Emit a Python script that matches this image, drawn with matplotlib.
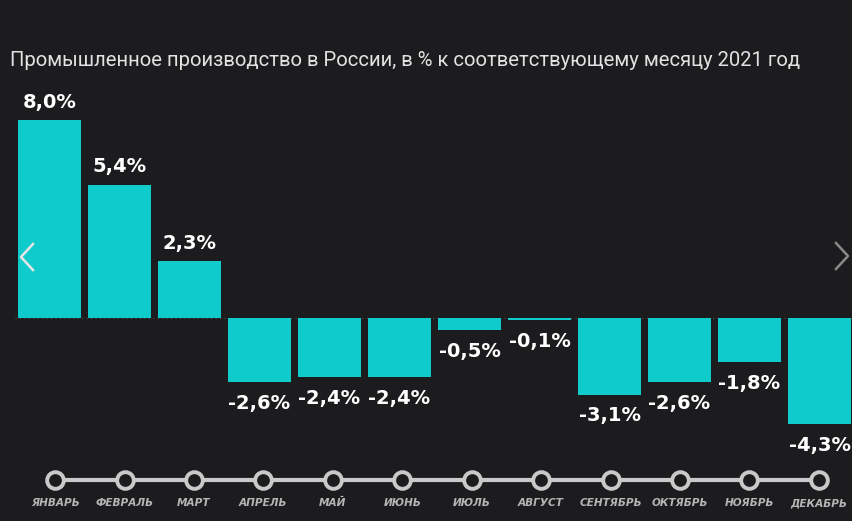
import matplotlib
matplotlib.use("Agg")
import matplotlib.pyplot as plt
from matplotlib.lines import Line2D

# data
months = ['ЯНВАРЬ', 'ФЕВРАЛЬ', 'МАРТ', 'АПРЕЛЬ', 'МАЙ', 'ИЮНЬ',
          'ИЮЛЬ', 'АВГУСТ', 'СЕНТЯБРЬ', 'ОКТЯБРЬ', 'НОЯБРЬ', 'ДЕКАБРЬ']
values = [8.0, 5.4, 2.3, -2.6, -2.4, -2.4, -0.5, -0.1, -3.1, -2.6, -1.8, -4.3]
title = 'Промышленное производство в России, в % к соответствующему месяцу 2021 год'

bg = '#1c1c1e'
bar_color = '#10cbcb'
line_grey = '#c9c9c9'

W, H = 852, 521
fig = plt.figure(figsize=(W / 100, H / 100), dpi=100, facecolor=bg)

# axes: 70 px per bar slot, zero line at 318 px from top, ~24.7 px per 1%
ymin, ymax = -8.2, 9.0
ppu = 24.7
zero_from_bottom = H - 318
bottom = zero_from_bottom + ymin * ppu
height = (ymax - ymin) * ppu
ax = fig.add_axes([14.5 / W, bottom / H, 840 / W, height / H])
ax.set_facecolor(bg)
ax.set_xlim(-0.5, 11.5)
ax.set_ylim(ymin, ymax)
ax.axis('off')

x = list(range(len(values)))
ax.axhline(0, color='#4a4a4a', lw=0.8, ls=(0, (1, 3)), zorder=1)
bars = ax.bar(x, values, width=0.9, color=bar_color, zorder=2)

for rect, v in zip(bars, values):
    txt = f'{v:.1f}%'.replace('.', ',')
    cx = rect.get_x() + rect.get_width() / 2
    if v >= 0:
        ax.annotate(txt, (cx, v), xytext=(0, 6), textcoords='offset points',
                    ha='center', va='bottom', color='white', fontsize=14,
                    fontweight='bold')
    else:
        ax.annotate(txt, (cx, v), xytext=(0, -8.5), textcoords='offset points',
                    ha='center', va='top', color='white', fontsize=14,
                    fontweight='bold')

# timeline under the bars
tl_y = (H - 480 - zero_from_bottom) / ppu
lab_y = (H - 503 - zero_from_bottom) / ppu
tx = [0.08 + i * (10.99 - 0.08) / 11 for i in x]
ax.plot(tx, [tl_y] * len(tx), color=line_grey, lw=3, zorder=3, clip_on=False,
        marker='o', markersize=12, markerfacecolor=bg,
        markeredgecolor=line_grey, markeredgewidth=2.8)
for xi, m in zip(tx, months):
    ax.text(xi, lab_y, m, ha='center', va='center', color='#b5b5b5',
            fontsize=7.6, fontweight='heavy', fontstyle='italic')

fig.text(10 / W, 1 - 61 / H, title, ha='left', va='center', color='#e2e2e2',
         fontsize=14.6, family='Roboto')

# carousel chevrons
fig.add_artist(Line2D([33 / W, 21 / W, 33 / W],
                      [1 - 244 / H, 1 - 257 / H, 1 - 270 / H],
                      color='#e6e6e6', lw=1.8))
fig.add_artist(Line2D([836 / W, 848 / W, 836 / W],
                      [1 - 243 / H, 1 - 256 / H, 1 - 269 / H],
                      color='#8a8a8a', lw=1.8))

fig.savefig('out.png', dpi=100, facecolor=bg)
